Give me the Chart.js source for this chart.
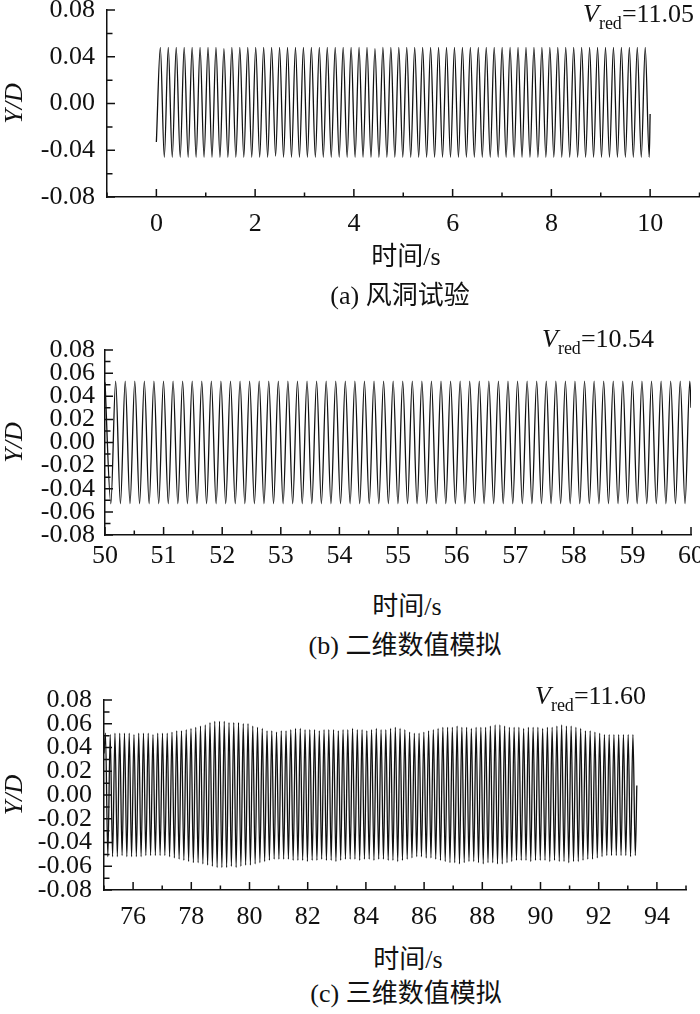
<!DOCTYPE html>
<html>
<head>
<meta charset="utf-8">
<script src="https://cdn.jsdelivr.net/npm/chart.js@4.4.1/dist/chart.umd.min.js"></script>
<style>
html, body { margin: 0; padding: 0; background: #fff; }
body { width: 700px; height: 1014px; position: relative; overflow: hidden;
       font-family: "Liberation Serif", "Noto Sans CJK SC", serif; color: #111; }
canvas { position: absolute; left: 0; }
.lbl { position: absolute; font-size: 26px; line-height: 30px; white-space: nowrap; transform: translateX(-50%); }
.vred { position: absolute; font-size: 26px; line-height: 26px; white-space: nowrap; }
.vred i { font-style: italic; }
.vred sub { font-size: 18px; vertical-align: baseline; position: relative; top: 7px; }
</style>
</head>
<body>
<canvas id="chartA" width="720" height="267" style="top:-20px"></canvas>
<canvas id="chartB" width="720" height="265" style="top:320px"></canvas>
<canvas id="chartC" width="720" height="270" style="top:670px"></canvas>

<div class="vred" style="left:583px;top:1px"><i>V</i><sub>red</sub>=11.05</div>
<div class="vred" style="left:542px;top:326px"><i>V</i><sub>red</sub>=10.54</div>
<div class="vred" style="left:535px;top:683px"><i>V</i><sub>red</sub>=11.60</div>

<div class="lbl" style="left:406px;top:242px">时间/s</div>
<div class="lbl" style="left:400px;top:281px">(a) 风洞试验</div>
<div class="lbl" style="left:407px;top:592px">时间/s</div>
<div class="lbl" style="left:405px;top:631px">(b) 二维数值模拟</div>
<div class="lbl" style="left:408px;top:945px">时间/s</div>
<div class="lbl" style="left:406px;top:979px">(c) 三维数值模拟</div>

<script>
// (a) wind tunnel test: peak / trough of each cycle
const aStart = [0, -0.033];
const aEnd = [10.0, -0.009];
const aFirstPeak = 0.08;     // s
const aPeriod = 0.161;       // s
const aPeaks = [
  0.048, 0.048, 0.048, 0.048, 0.048, 0.048, 0.048, 0.048, 0.047, 0.048,
  0.048, 0.048, 0.048, 0.048, 0.048, 0.048, 0.048, 0.048, 0.048, 0.048,
  0.048, 0.048, 0.048, 0.048, 0.048, 0.048, 0.048, 0.047, 0.048, 0.048,
  0.048, 0.048, 0.048, 0.048, 0.048, 0.048, 0.048, 0.048, 0.048, 0.048,
  0.048, 0.048, 0.048, 0.048, 0.048, 0.048, 0.048, 0.048, 0.048, 0.048,
  0.048, 0.048, 0.048, 0.048, 0.048, 0.048, 0.048, 0.048, 0.048, 0.048,
  0.048, 0.048
];
const aTroughs = [
  -0.046, -0.046, -0.046, -0.046, -0.046, -0.046, -0.046, -0.046, -0.046, -0.046,
  -0.046, -0.046, -0.046, -0.046, -0.045, -0.046, -0.046, -0.046, -0.046, -0.046,
  -0.046, -0.046, -0.046, -0.046, -0.046, -0.046, -0.046, -0.046, -0.046, -0.046,
  -0.046, -0.046, -0.046, -0.046, -0.046, -0.046, -0.046, -0.046, -0.046, -0.046,
  -0.046, -0.046, -0.046, -0.046, -0.046, -0.046, -0.046, -0.046, -0.046, -0.046,
  -0.046, -0.046, -0.046, -0.046, -0.046, -0.046, -0.046, -0.046, -0.046, -0.046,
  -0.046, -0.046
];

// (b) 2D simulation
const bStart = [50.0, 0.052];
const bEnd = [60.0, 0.03];
const bFirstTrough = 50.10;
const bPeriod = 0.1633;
const bTroughs = [
  -0.053, -0.053, -0.053, -0.053, -0.053, -0.053, -0.053, -0.053, -0.053, -0.053,
  -0.053, -0.053, -0.053, -0.053, -0.053, -0.053, -0.053, -0.053, -0.053, -0.053,
  -0.053, -0.053, -0.053, -0.053, -0.053, -0.053, -0.053, -0.053, -0.053, -0.053,
  -0.053, -0.053, -0.053, -0.053, -0.053, -0.053, -0.053, -0.053, -0.053, -0.053,
  -0.053, -0.053, -0.053, -0.053, -0.053, -0.053, -0.053, -0.053, -0.053, -0.053,
  -0.053, -0.053, -0.053, -0.053, -0.053, -0.053, -0.053, -0.053, -0.053, -0.053,
  -0.053
];
const bPeaks = [
  0.053, 0.053, 0.053, 0.053, 0.053, 0.053, 0.053, 0.053, 0.053, 0.053,
  0.053, 0.053, 0.053, 0.053, 0.053, 0.053, 0.053, 0.053, 0.053, 0.053,
  0.053, 0.053, 0.053, 0.053, 0.053, 0.053, 0.053, 0.053, 0.053, 0.053,
  0.053, 0.053, 0.053, 0.053, 0.053, 0.053, 0.053, 0.053, 0.053, 0.053,
  0.053, 0.053, 0.053, 0.053, 0.053, 0.053, 0.053, 0.053, 0.053, 0.053,
  0.053, 0.053, 0.053, 0.053, 0.053, 0.053, 0.053, 0.053, 0.053, 0.053,
  0.053
];

// (c) 3D simulation, amplitude drifts slowly
const cStart = [75.0, 0.035];
const cEnd = [93.31, 0.008];
const cFirstPeak = 75.05;
const cPeriod = 0.1633;
const cPeaks = [
  0.052, 0.051, 0.052, 0.052, 0.052, 0.052, 0.051, 0.052, 0.052, 0.052,
  0.051, 0.052, 0.052, 0.052, 0.053, 0.054, 0.054, 0.055, 0.056, 0.057,
  0.058, 0.059, 0.061, 0.062, 0.062, 0.062, 0.061, 0.061, 0.061, 0.060,
  0.060, 0.058, 0.057, 0.056, 0.054, 0.054, 0.053, 0.054, 0.054, 0.055,
  0.056, 0.056, 0.055, 0.055, 0.055, 0.054, 0.055, 0.055, 0.055, 0.054,
  0.055, 0.055, 0.056, 0.055, 0.055, 0.054, 0.055, 0.056, 0.055, 0.055,
  0.056, 0.057, 0.056, 0.055, 0.053, 0.052, 0.052, 0.053, 0.054, 0.055,
  0.056, 0.057, 0.057, 0.057, 0.058, 0.057, 0.057, 0.056, 0.057, 0.057,
  0.057, 0.058, 0.059, 0.059, 0.058, 0.057, 0.057, 0.057, 0.056, 0.057,
  0.057, 0.057, 0.056, 0.057, 0.057, 0.058, 0.059, 0.058, 0.058, 0.057,
  0.056, 0.054, 0.054, 0.053, 0.052, 0.051, 0.051, 0.051, 0.051, 0.051,
  0.051, 0.051
];
const cTroughs = [
  -0.052, -0.052, -0.052, -0.051, -0.052, -0.052, -0.052, -0.052, -0.051, -0.051,
  -0.051, -0.051, -0.051, -0.052, -0.053, -0.054, -0.055, -0.056, -0.057, -0.057,
  -0.058, -0.059, -0.060, -0.061, -0.061, -0.061, -0.060, -0.061, -0.060, -0.059,
  -0.059, -0.058, -0.057, -0.056, -0.055, -0.054, -0.054, -0.054, -0.054, -0.055,
  -0.055, -0.055, -0.056, -0.055, -0.055, -0.054, -0.055, -0.055, -0.056, -0.055,
  -0.054, -0.054, -0.054, -0.055, -0.054, -0.054, -0.055, -0.054, -0.054, -0.055,
  -0.055, -0.056, -0.055, -0.054, -0.053, -0.052, -0.052, -0.053, -0.053, -0.054,
  -0.055, -0.056, -0.057, -0.057, -0.058, -0.057, -0.056, -0.056, -0.057, -0.058,
  -0.057, -0.057, -0.058, -0.058, -0.057, -0.056, -0.055, -0.055, -0.055, -0.056,
  -0.055, -0.055, -0.055, -0.056, -0.055, -0.056, -0.056, -0.057, -0.056, -0.056,
  -0.055, -0.054, -0.054, -0.053, -0.052, -0.051, -0.051, -0.051, -0.051, -0.051,
  -0.052, -0.051
];

const SERIF = '"Liberation Serif", "Times New Roman", serif';

// one point per extremum: first[k] at t0 + k*P, second[k] half a period later
function buildSeries(start, t0, period, first, second, end) {
  const pts = [{ x: start[0], y: start[1] }];
  for (let k = 0; k < first.length; k++) {
    pts.push({ x: t0 + k * period, y: first[k] });
    if (second[k] !== undefined) pts.push({ x: t0 + (k + 0.5) * period, y: second[k] });
  }
  pts.push({ x: end[0], y: end[1] });
  return pts;
}

// ticks point into the plot, labelled ones longer
const innerTicks = {
  id: 'innerTicks',
  afterDraw(chart) {
    const ctx = chart.ctx, area = chart.chartArea;
    const xs = chart.scales.x, ys = chart.scales.y;
    ctx.save();
    ctx.strokeStyle = '#111';
    ctx.lineWidth = 1.5;
    ctx.beginPath();
    xs.ticks.forEach(t => {
      const px = xs.getPixelForValue(t.value);
      const len = t.label !== '' ? 8 : 4.5;
      ctx.moveTo(px, area.bottom);
      ctx.lineTo(px, area.bottom - len);
    });
    ys.ticks.forEach(t => {
      const py = ys.getPixelForValue(t.value);
      const len = t.label !== '' ? 8 : 5.5;
      ctx.moveTo(area.left, py);
      ctx.lineTo(area.left + len, py);
    });
    ctx.stroke();
    ctx.restore();
  }
};

function makeChart(id, cfg) {
  const el = document.getElementById(id);
  return new Chart(el, {
    type: 'line',
    data: {
      datasets: [{
        data: cfg.points,
        borderColor: '#111',
        borderWidth: 1.3,
        pointRadius: 0,
        cubicInterpolationMode: 'monotone',
        fill: false
      }]
    },
    options: {
      responsive: false,
      animation: false,
      events: [],
      layout: { padding: { left: 0, right: cfg.padRight, top: 30, bottom: 0 } },
      plugins: { legend: { display: false }, tooltip: { enabled: false } },
      scales: {
        x: {
          type: 'linear',
          min: cfg.xMin, max: cfg.xMax,
          afterFit(scale) { scale.height = 50; },
          border: { display: true, color: '#111', width: 1.5 },
          grid: { display: true, drawOnChartArea: false, drawTicks: false },
          ticks: {
            stepSize: cfg.xStep,
            autoSkip: false, maxRotation: 0,
            padding: cfg.xPad,
            color: '#111',
            font: { family: SERIF, size: 26 },
            callback: cfg.xLabel
          }
        },
        y: {
          min: -0.08, max: 0.08,
          afterFit(scale) { scale.width = cfg.left; },
          border: { display: true, color: '#111', width: 1.5 },
          grid: { display: true, drawOnChartArea: false, drawTicks: false },
          title: {
            display: true, text: 'Y/D', color: '#111',
            font: { family: SERIF, size: 26, style: 'italic' },
            padding: { top: 0, bottom: 0 }
          },
          ticks: {
            stepSize: cfg.yStep,
            autoSkip: false,
            padding: cfg.yPad,
            color: '#111',
            font: { family: SERIF, size: 26 },
            callback: function(v) {
              const n = Math.round(v / cfg.yStep);
              if (n % cfg.yEvery !== 0) return '';
              const val = n * cfg.yStep;
              return (Math.abs(val) < 1e-9 ? 0 : val).toFixed(2);
            }
          }
        }
      }
    },
    plugins: [innerTicks]
  });
}

function evenLabel(v) {
  const r = Math.round(v);
  return (Math.abs(v - r) < 1e-6 && r % 2 === 0) ? String(r) : '';
}
function intLabel(v) {
  const r = Math.round(v);
  return Math.abs(v - r) < 1e-6 ? String(r) : '';
}

makeChart('chartA', {
  points: buildSeries(aStart, aFirstPeak, aPeriod, aPeaks, aTroughs, aEnd),
  xMin: -1, xMax: 11, xStep: 1, xLabel: evenLabel, xPad: 12,
  yStep: 0.02, yEvery: 2, yPad: 12,
  left: 107, padRight: 20.5
});

makeChart('chartB', {
  points: buildSeries(bStart, bFirstTrough, bPeriod, bTroughs, bPeaks, bEnd),
  xMin: 50, xMax: 60, xStep: 0.5, xLabel: intLabel, xPad: 6,
  yStep: 0.01, yEvery: 2, yPad: 10,
  left: 105, padRight: 29
});

makeChart('chartC', {
  points: buildSeries(cStart, cFirstPeak, cPeriod, cPeaks, cTroughs, cEnd),
  xMin: 75, xMax: 95, xStep: 1, xLabel: evenLabel, xPad: 12,
  yStep: 0.01, yEvery: 2, yPad: 12,
  left: 104, padRight: 34
});
</script>
</body>
</html>
